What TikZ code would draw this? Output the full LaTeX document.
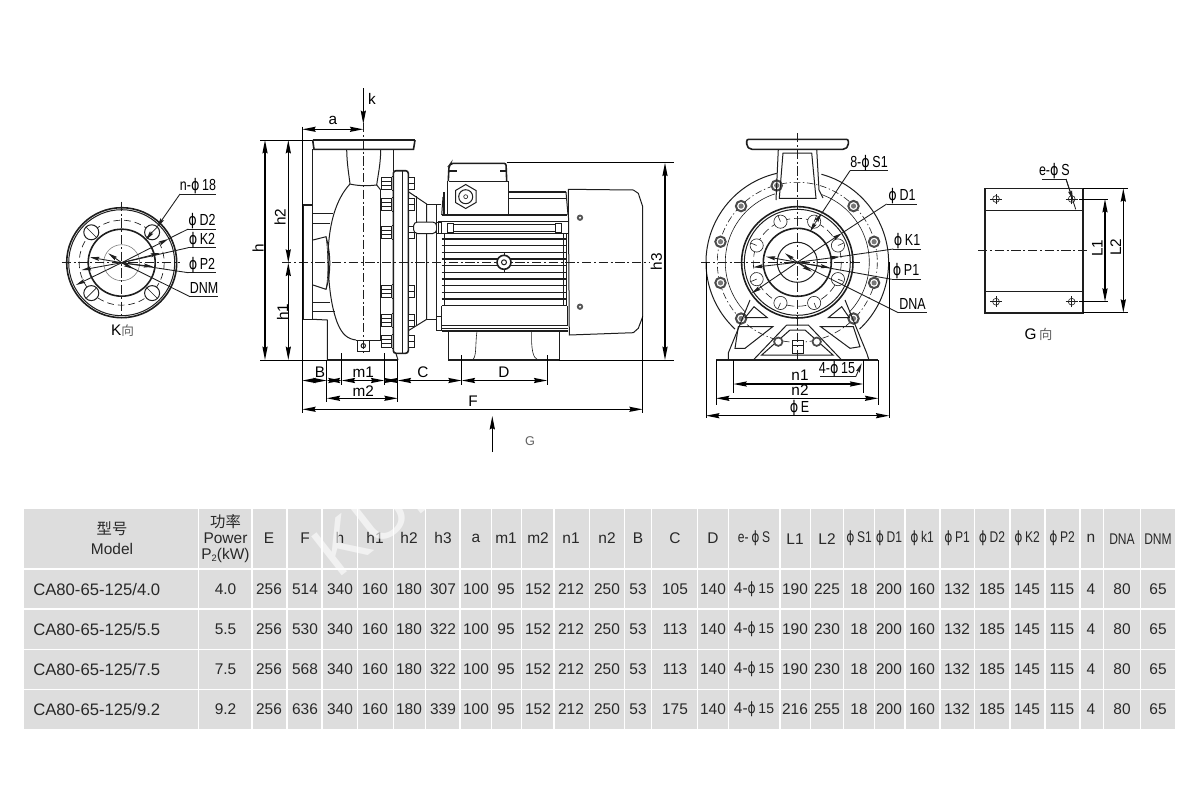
\documentclass[tikz,border=0pt]{standalone}
\usepackage{fontspec}
\setmainfont{Liberation Sans}
\newfontfamily\narrowf[FakeStretch=0.78]{Liberation Sans}
\newfontfamily\phif{DejaVu Sans}
\newfontfamily\cjk{Noto Sans CJK SC}
\usetikzlibrary{arrows.meta}
\newcommand{\phig}{{\phif\scalebox{0.8}[1]{ϕ}}}
\definecolor{tblgray}{RGB}{221,221,221}
\definecolor{ink}{RGB}{30,30,30}
\definecolor{tink}{RGB}{40,40,40}
\tikzset{
  tip/.tip={Stealth[length=10pt,width=3.8pt,inset=1pt]},
  stip/.tip={Stealth[length=7pt,width=3pt,inset=1pt]},
  thinl/.style={line width=0.45pt,draw=ink},
  med/.style={line width=0.75pt,draw=ink},
  thk/.style={line width=1.2pt,draw=ink},
  cen/.style={line width=0.5pt,draw=ink,dash pattern=on 7pt off 2pt on 1.5pt off 2pt},
  dashc/.style={line width=0.5pt,draw=ink,dash pattern=on 5pt off 3pt},
  dim/.style={line width=1.05pt,draw=black,tip-tip},
  ext/.style={line width=0.6pt,draw=black},
  lead/.style={line width=0.65pt,draw=ink},
  leadtip/.style={line width=0.65pt,draw=ink,-stip},
  fin/.style={line width=1.05pt,draw=ink},
  lab/.style={font=\fontsize{12}{12}\narrowf,text=black,inner sep=0pt},
  labw/.style={font=\fontsize{11.5}{12}\selectfont,text=black,inner sep=0pt},
  tt/.style={font=\fontsize{11.6}{12}\selectfont,text=tink,inner sep=0pt},
  ttn/.style={font=\fontsize{11.6}{12}\narrowf,text=tink,inner sep=0pt}
}
\newcommand{\boltL}[1]{\draw[med,fill=white] (381.7,#1-6) rectangle (391.7,#1+6); \draw[thinl] (381.7,#1-2) -- (391.7,#1-2); \draw[thinl] (381.7,#1+2) -- (391.7,#1+2); \draw[med] (391.7,#1-7) -- (393.3,#1-7) -- (393.3,#1+7) -- (391.7,#1+7);}
\newcommand{\boltR}[1]{\draw[med,fill=white] (408.3,#1-6) rectangle (414,#1+6); \draw[thinl] (408.3,#1) -- (414,#1);}
\newcommand{\cbolt}[1]{\draw[line width=1.5pt,draw=ink!80,fill=white] (#1:79.5) circle (5.2); \fill[ink!60] (#1:79.5) circle (2.6);}
\newcommand{\ghole}[1]{\draw[thinl] (#1) circle (3.4); \draw[thinl] ([xshift=-4.5pt]#1) -- ([xshift=4.5pt]#1); \draw[thinl] ([yshift=-4pt]#1) -- ([yshift=4pt]#1);}
\newcommand{\chole}[1]{\draw[thinl,fill=white] (#1:44) circle (6.6); \draw[thinl] (#1:44) -- (#1:50);}
\def\cxs{{269,305,340,375,409,443,476,506,538,571,607,638,675,713,754,795,827,859,889,922,957,992,1027,1062,1091,1122,1158}}
\newcommand{\eSv}{4-\raisebox{0pt}{\phig}\,{\fontsize{10.5}{12}\selectfont 15}}
\newcommand{\trow}[8]{%
  \node[tt,font=\fontsize{12.5}{13}\selectfont,anchor=west] (model#1) at (33,#1.5) {#2};
  \node[tt] (pow#1) at (225.5,#1.5) {#3};
  \foreach \v [count=\i from 0] in {256,#4,340,160,180,#5,100,95,152,212,250,53,#6,140,\eSv,#7,#8,18,200,160,132,185,145,115,4,80,65}{
    \pgfmathsetmacro\cx{\cxs[\i]}
    \node[tt] (cell#1-\i) at (\cx,#1.5) {\v};
  }
}
\begin{document}
\begin{tikzpicture}[x=0.75pt,y=-0.75pt]
\useasboundingbox (0,0) rectangle (1200,800);
\fill[white] (0,0) rectangle (1200,800);

%% ---------- K view
\begin{scope}[shift={(121.7,262.7)}]
  \draw[thk] (0,0) circle (55);
  \draw[med] (0,0) circle (53);
  \draw[dashc] (0,0) circle (42.5);
  \draw[thk] (0,0) circle (33.5);
  \draw[thinl,draw=gray] (0,0) circle (18);
  \foreach \a in {45,135,225,315}{
    \draw[med,fill=white] (\a:43) circle (7.5);
    \draw[thinl] (\a:36) -- (\a:50);
  }
\end{scope}
\draw[cen] (61.7,262.7) -- (180,262.7);
\draw[cen] (121.7,201.7) -- (121.7,316.7);
% leaders
\coordinate (kc) at (121.7,262.7);
\draw[lead] (180,194) -- (215.7,194);
\draw[leadtip] (180,194) -- (157,227);
\draw[leadtip] (152,232) -- (146,240);
\node[lab,anchor=base] (ln18) at (198,190.5) {n-\phig\,18};
\draw[lead] (188.3,229) -- (215.7,229);
\draw[leadtip] (kc) -- (76,285);
\draw[lead] (188.3,229) -- (168,239);
\draw[leadtip] (kc) -- (168.3,239);
\node[lab,anchor=base] (ld2) at (202,225.5) {\phig\,D2};
\draw[lead] (188.3,247.7) -- (215.7,247.7);
\draw[lead] (188.3,247.7) -- (kc);
\draw[leadtip] (kc) -- (160,253);
\draw[leadtip] (kc) -- (81.7,270);
\node[lab,anchor=base] (lk2) at (202,244) {\phig\,K2};
\draw[lead] (188.3,272.7) -- (215.7,272.7);
\draw[lead] (188.3,272.7) -- (kc);
\draw[leadtip] (kc) -- (153.3,266.7);
\draw[leadtip] (kc) -- (90,257.3);
\node[lab,anchor=base] (lp2) at (202,269) {\phig\,P2};
\draw[lead] (190,296.7) -- (218.3,296.7);
\draw[lead] (190,296.7) -- (kc);
\draw[leadtip] (kc) -- (133.3,268.8);
\draw[leadtip] (kc) -- (108.3,253.3);
\node[lab,anchor=base] (ldnm) at (204,293) {DNM};
\node[labw,anchor=center] (lkv) at (122.5,331) {K{\cjk\fontsize{9.5}{10}\selectfont\color{ink!70}向}};

%% ---------- side view: pump
\draw[thk] (312.7,140) -- (415,140);
\draw[thk] (312.7,140) -- (314,149.3) -- (413.5,149.3) -- (415,140);
\draw[thk] (302.3,205) -- (312.7,205);
\draw[med] (312.7,149.3) -- (312.7,205);
\draw[thk] (302.7,205) -- (302.7,319.3) -- (312.7,319.3);
\draw[med] (312.7,205) -- (312.7,319.3);
\draw[med] (312.7,319.3) -- (327.3,320) -- (327.3,360);
\draw[thk] (327.3,360) -- (398,360);
\draw[med] (393.3,149.3) -- (393.3,171);
\draw[med] (393.3,345) -- (398,360);
% back plate
\draw[thk,fill=white,rounded corners=2pt] (393.3,170.7) rectangle (408.3,353.3);
\draw[thinl] (402.7,171) -- (402.7,353);
% neck and volute
\draw[med] (346.7,150) .. controls (347,165) and (349,175) .. (350,184);
\draw[med] (380.7,150) .. controls (380.5,165) and (378,175) .. (376.7,185);
\draw[med] (350,184) .. controls (335,200) and (330,225) .. (328.5,245)
      .. controls (327.5,270) and (329,300) .. (337,322)
      .. controls (342,335) and (348,339) .. (356,340);
\draw[med] (350,184) .. controls (358,186) and (368,186) .. (376.7,185) -- (380.7,190);
\draw[med] (356,340) -- (380.7,340);
\draw[med] (380.7,190) -- (380.7,340);
% inlet
\draw[med] (313,240) -- (326,236.7) .. controls (330,250) and (332,270) .. (326,289.3) -- (313,285);
\draw[thinl] (326,236.7) .. controls (328,250) and (329,275) .. (326,289.3);
\draw[thinl] (313,213.3) -- (333,213.3);
\draw[thinl] (313,223.3) -- (330,223.3);
\draw[thinl] (313,302.7) -- (330,302.7);
\draw[thinl] (313,311) -- (335,311);
% foot bolt
\draw[med,fill=white] (357.3,340) rectangle (369.3,351.5);
\draw[med] (363.3,345.7) circle (2.2);
% flange bolts
\foreach \y in {183.3,204,232.7,291.7,320,341.7}{\boltL{\y}\boltR{\y}}
% bearing bracket
\draw[med] (408.3,191.7) -- (426.7,204) -- (426.7,319.3) -- (408.3,330.7);
\draw[thinl] (416,196) -- (416,326);
\draw[med] (426.7,204) -- (441,204);
\draw[med] (426.7,319.3) -- (441,319.3);
\draw[med] (436.7,204) -- (436.7,319.3);
\draw[med,fill=white,rounded corners=3pt] (413.5,222) rectangle (436.7,233.5);
\draw[med,fill=white] (436.7,222) rectangle (441,233.5);
\draw[med,fill=white] (436.7,316) rectangle (441,330);

%% ---------- motor
\draw[thk,rounded corners=1.5pt] (448.3,181) -- (449,166) -- (451,163.3) -- (506,163.3) -- (506.7,181);
\draw[med] (449,170) -- (456,170) -- (456,171.5) -- (449,171.5);
\draw[med] (500,170) -- (506,170) -- (506,171.5) -- (500,171.5);
\draw[med] (449,181) -- (508,181);
\draw[med] (447.5,181) -- (447.5,214);
\draw[med] (508,181) -- (508,214);
\draw[thk] (444,192) -- (444,215);
\draw[thk] (508,191.7) -- (566,191.7);
\draw[med] (508,198.3) -- (566,198.3);
\draw[thk] (441.7,215) -- (567,215);
\draw[med] (566,192) -- (568,215);
\draw[med] (441.7,215) -- (443,197);
\draw[med] (465.7,184.5) -- (476,190.5) -- (476,202.5) -- (465.7,208.5) -- (455.5,202.5) -- (455.5,190.5) -- cycle;
\draw[med] (465.7,196.7) circle (7);
\draw[thinl] (465.7,196.7) circle (2);
% lifting bar
\draw[med] (438,221.7) -- (568,221.7);
\draw[med] (438,233.3) -- (568,233.3);
\draw[med] (438,221.7) -- (438,233.3);
\draw[med,fill=white] (447,223) rectangle (453,232);
\draw[med,fill=white] (555,223) rectangle (561,232);
\draw[med] (453,224) -- (555,224);
\draw[thinl] (453,231) -- (555,231);
% fins
\foreach \y in {239,245.7,252.3,259,265.7,272.3,279,285.7,292.3,299,305.7}{\draw[fin] (441.7,\y) -- (566.7,\y);}
\draw[med] (444.5,233) -- (444.5,306);
\draw[med] (563.5,233) -- (563.5,306);
\draw[thinl] (566,233) -- (566,306);
% lower frame
\draw[med] (441.7,306) -- (441.7,325);
\draw[med] (567,306) -- (567,325);
\draw[med] (441.7,325) -- (568,325);
\draw[med] (441.7,328.3) -- (568,328.3);
\draw[thk] (441.7,331) -- (568,331);
% feet
\draw[med] (448.3,331) -- (448.3,360) -- (559.3,360) -- (559.3,331);
\draw[thk] (448.3,360) -- (559.3,360);
\draw[thinl] (477,331) .. controls (475,345) and (477,358) .. (472,360);
\draw[thinl] (531.7,331) .. controls (531,350) and (533,358) .. (538,360);
% fan cover
\draw[med] (568.3,189.3) -- (633.3,190) -- (638.3,193.3) -- (642.7,206.7) -- (642.7,316.7) -- (638.3,328.3) -- (633.3,332.7) -- (569.3,335) -- cycle;
\fill[ink!75] (580,217.7) circle (3.2);
\fill[white] (580,217.7) circle (1.2);
\fill[ink!75] (580,306.7) circle (3.2);
\fill[white] (580,306.7) circle (1.2);
% center bolt
\draw[cen] (282,262.7) -- (650,262.7);
\draw[cen] (363.3,123) -- (363.3,353);
\draw[thk,fill=white] (504,262.3) circle (7);
\draw[med] (504,262.3) circle (2.5);
\draw[thinl] (504,252) -- (504,256); \draw[thinl] (504,269) -- (504,272);

%% ---------- side view dimensions
\draw[ext] (302.3,126.7) -- (302.3,413);
\draw[ext] (260,140) -- (312,140);
\draw[ext] (260,360) -- (327.3,360);
\draw[ext] (506.7,162.7) -- (674,162.7);
\draw[ext] (559.3,360) -- (674,360);
\draw[ext] (642.7,316) -- (642.7,413);
\draw[ext] (326.7,360) -- (326.7,402);
\draw[ext] (341.7,353) -- (341.7,385);
\draw[ext] (384.3,353) -- (384.3,385);
\draw[ext] (397.7,360) -- (397.7,402);
\draw[ext] (461.7,355) -- (461.7,385);
\draw[ext] (547.3,355) -- (547.3,385);
\coordinate (kt) at (363.3,88);
\coordinate (kb) at (363.3,124);
\draw[line width=1.05pt,-tip] (kt) -- (kb);
\node[labw] (kl) at (372,99) {k};
\draw[dim] (302.3,129.3) -- (363.3,129.3);
\node[labw] (al) at (333,120) {a};
\draw[dim] (265,140) -- (265,360);
\node[labw,rotate=90] (hl) at (258,248) {h};
\draw[dim] (288.3,140) -- (288.3,262.7);
\draw[dim] (288.3,262.7) -- (288.3,360);
\node[labw,rotate=90] (h2l) at (280,217) {h2};
\node[labw,rotate=90] (h1l) at (282.5,312) {h1};
\draw[dim] (665,162.7) -- (665,360);
\node[labw,rotate=90] (h3l) at (656.5,261.7) {h3};
\draw[dim] (302.3,380.5) -- (326.7,380.5);
\draw[dim] (326.7,380.5) -- (341.7,380.5);
\draw[dim] (341.7,380.5) -- (384.3,380.5);
\draw[dim] (384.3,380.5) -- (397.7,380.5);
\draw[dim] (397.7,380.5) -- (461.7,380.5);
\draw[dim] (461.7,380.5) -- (547.3,380.5);
\draw[dim] (326.7,398.3) -- (397.7,398.3);
\draw[dim] (302.3,409.3) -- (642.7,409.3);
\node[labw] (bl) at (320,372) {B};
\node[labw] (m1l) at (363.3,372.5) {m1};
\node[labw] (m2l) at (363.3,391.5) {m2};
\node[labw] (cl) at (423,372.5) {C};
\node[labw] (dl) at (504,372) {D};
\node[labw] (fl) at (473,401.5) {F};
\coordinate (gb) at (492.3,452);
\coordinate (gt) at (492.3,416);
\draw[line width=1.2pt,-tip] (gb) -- (gt);
\node[font=\fontsize{9.5}{10}\selectfont,text=ink!70,inner sep=0pt] (gl) at (530,441) {G};

%% ---------- front view
\begin{scope}[shift={(797.3,262.3)}]
  \draw[med] (257:91.3) arc (257:133:91.3);
  \draw[med] (-74.7:91.3) arc (-74.7:47:91.3);
  \draw[thinl] (252:72) arc (252:136:72);
  \draw[thinl] (-70:72) arc (-70:44:72);
  \draw[thinl,dash pattern=on 5pt off 2pt on 1pt off 2pt] (0,0) circle (80);
  \foreach \a in {255,225,195,165,135,-45,-15,15,45}{\cbolt{\a}}
\end{scope}
% neck
\draw[med] (778.3,149.3) -- (776,200);
\draw[med] (816.7,149.3) -- (819,190) -- (823,198);
\draw[med] (783,153) -- (779.3,198.3) -- (816,198.3) -- (811.7,153) -- cycle;
\draw[thk,fill=white,rounded corners=1.5pt] (746.7,139.3) -- (848.3,139.3) -- (848.3,146) -- (845,149.3) -- (750,149.3) -- (746.7,146) -- cycle;
% ribs and base
\draw[med] (750,300) -- (728.3,353) -- (728.3,360);
\draw[med] (845,300) -- (866.7,353) -- (869,360);
\draw[med] (745,317.7) -- (754,306.7) -- (767.3,317.7) -- cycle;
\draw[med] (828.3,317.7) -- (841.7,306.7) -- (849.3,317.7) -- cycle;
\draw[med] (738.3,326.7) -- (772.7,326.7) -- (745,348.3) -- (735,348.3) -- cycle;
\draw[med] (820.7,326.7) -- (853.3,326.7) -- (860,346.7) -- (850,348.3) -- cycle;
\draw[med] (786.7,325) -- (808.3,325) -- (841.7,360);
\draw[med] (786.7,325) -- (753.3,360);
\draw[med] (790,330) -- (805,330) -- (833,355) -- (761.7,355) -- cycle;
\draw[thk] (716,360) -- (878.3,360);
\draw[line width=1.3pt,draw=ink!80,fill=white] (778.3,341.7) circle (4.2);
\draw[line width=1.3pt,draw=ink!80,fill=white] (816.7,341.7) circle (4.2);
\draw[med,fill=white] (792,340) rectangle (803,353);
\draw[med] (792,345) -- (803,345);
% plate
\draw[thk,fill=white] (797.3,262.3) circle (55.7);
\draw[med] (797.3,262.3) circle (53);
\draw[thinl,dash pattern=on 6pt off 3pt] (797.3,262.3) circle (44);
\begin{scope}[shift={(797.3,262.3)}]
  \foreach \a in {22.5,67.5,112.5,157.5,202.5,247.5,292.5,337.5}{\chole{\a}}
\end{scope}
\draw[thk] (797.3,262.3) circle (34);
\draw[med] (797.3,262.3) circle (20);
\draw[cen] (701,262.3) -- (860,262.3);
\draw[cen] (797.3,133) -- (797.3,360);
% leaders
\coordinate (fc) at (797.3,262.3);
\draw[lead] (850,170.7) -- (888.3,170.7);
\draw[lead] (850,170.7) -- (821.7,213.3);
\draw[leadtip] (815.5,222.5) -- (821.7,213.3);
\draw[leadtip] (815.5,222.5) -- (810,231.7);
\node[lab,anchor=base] (ls1) at (869,167) {8-\phig\,S1};
\draw[lead] (886.7,204) -- (916.7,204);
\draw[lead] (886.7,204) -- (841.7,233.3);
\draw[leadtip] (fc) -- (841.7,233.3);
\draw[leadtip] (fc) -- (751.7,293.3);
\node[lab,anchor=base] (ld1) at (902,200) {\phig\,D1};
\draw[lead] (893.3,249) -- (920.7,249);
\draw[lead] (893.3,249) -- (840,256.7);
\draw[leadtip] (fc) -- (840,256.7);
\draw[leadtip] (fc) -- (753.3,267.3);
\node[lab,anchor=base] (lk1) at (907,245.5) {\phig\,K1};
\draw[lead] (891.7,279.3) -- (920.7,279.3);
\draw[lead] (891.7,279.3) -- (fc);
\draw[leadtip] (fc) -- (830,267.7);
\draw[leadtip] (fc) -- (766,256.7);
\node[lab,anchor=base] (lp1) at (906,275.5) {\phig\,P1};
\draw[lead] (898.3,312.7) -- (926.7,312.7);
\draw[lead] (898.3,312.7) -- (fc);
\draw[leadtip] (fc) -- (811.7,271.7);
\draw[leadtip] (fc) -- (785,253.3);
\node[lab,anchor=base] (ldna) at (912.5,309) {DNA};
% dims
\draw[ext] (733.3,360) -- (733.3,393.3);
\draw[ext] (863.3,360) -- (863.3,393.3);
\draw[ext] (716,360) -- (716,405);
\draw[ext] (878.3,360) -- (878.3,405);
\draw[ext] (706,262.3) -- (706,418);
\draw[ext] (889.3,262.3) -- (889.3,418);
\draw[dim] (733.3,384) -- (863.3,384);
\draw[dim] (716,398.3) -- (878.3,398.3);
\draw[dim] (706,415.7) -- (889.3,415.7);
\node[labw] (n1l) at (800,375.5) {n1};
\node[labw] (n2l) at (800,390.5) {n2};
\node[lab] (el) at (799.5,408) {\phig\,E};
\draw[lead] (820,376.7) -- (855.7,376.7);
\draw[leadtip] (855.7,376.7) -- (861.7,363.3);
\node[lab,anchor=base] (l415) at (837,373) {4-\phig\,15};

%% ---------- G view
\draw[thk] (985,188.3) rectangle (1082.7,312.7);
\draw[med] (985,210) -- (1082.7,210);
\draw[med] (985,291) -- (1082.7,291);
\coordinate (ga) at (996,199);
\coordinate (gc) at (1071.7,199);
\coordinate (gd) at (996,301.7);
\coordinate (ge) at (1071.7,301.7);
\ghole{ga}\ghole{gc}\ghole{gd}\ghole{ge}
\draw[cen] (978,250.7) -- (1089,250.7);
\draw[ext] (1082.7,188.3) -- (1128,188.3);
\draw[ext] (1082.7,312.7) -- (1128,312.7);
\draw[ext] (1079.3,199) -- (1108,199);
\draw[ext] (1079.3,301.7) -- (1108,301.7);
\draw[dim] (1105,199) -- (1105,301.7);
\draw[dim] (1123.3,188.3) -- (1123.3,312.7);
\node[labw,rotate=90] (l1l) at (1097.3,248.3) {L1};
\node[labw,rotate=90] (l2l) at (1115.7,247) {L2};
\draw[lead] (1042.3,179) -- (1066,179);
\draw[lead] (1066,179) -- (1075.7,209.3);
\draw[leadtip] (1066,179) -- (1073,200);
\node[lab,anchor=base] (les) at (1054.3,175) {e-\phig\,S};
\node[labw] (lgv) at (1038.5,334) {G\,{\cjk\fontsize{10}{10}\selectfont\color{ink!70}向}};

%% ---------- table
\fill[tblgray] (24,509) rectangle (1175,729);
\foreach \x in {198.3,252,287,322,357.5,393.5,425.7,460,491.5,521.4,554,589.5,624.5,651.6,697.5,728.3,780,810.8,843.5,874.4,904.9,939.9,974.5,1009.9,1044.9,1079.9,1103.6,1140.8}{
  \draw[white,line width=1pt] (\x,509) -- (\x,729);
}
\foreach \y in {569,609,649.5,689.5}{
  \draw[white,line width=1.1pt] (24,\y) -- (1175,\y);
}
\node[tt,font=\cjk\fontsize{11.5}{12}\selectfont] (hcn) at (112,529) {型号};
\node[tt] (hmod) at (112,549) {Model};
\node[tt,font=\cjk\fontsize{11.5}{12}\selectfont] (hpcn) at (225.5,522) {功率};
\node[tt] (hpow) at (225.5,538.5) {Power};
\node[tt] (hp2) at (225.5,555) {P{\fontsize{7}{8}\selectfont\raisebox{-2pt}{2}}(kW)};
\foreach \v [count=\i from 0] in {E,F,h,h1,h2,h3,a,m1,m2,n1,n2,B,C,D}{
  \pgfmathsetmacro\cx{\cxs[\i]}
  \node[tt] (hd\i) at (\cx,538) {\v};
}
\node[ttn] (he) at (754,538) {e-\,\phig\,S};
\node[tt] (hl1) at (795,539) {L1};
\node[tt] (hl2) at (827,539) {L2};
\node[ttn] (hs1) at (859,538) {\phig\,S1};
\node[ttn] (hd1) at (889,538) {\phig\,D1};
\node[ttn] (hk1) at (922,538) {\phig\,k1};
\node[ttn] (hp1) at (957,538) {\phig\,P1};
\node[ttn] (hd2) at (992,538) {\phig\,D2};
\node[ttn] (hk2) at (1027,538) {\phig\,K2};
\node[ttn] (hp2b) at (1062,538) {\phig\,P2};
\node[tt] (hn) at (1091,538) {n};
\node[ttn] (hdna) at (1122,539) {DNA};
\node[ttn] (hdnm) at (1158,539) {DNM};

%% ---------- watermark (behind the rows' figures)
\node[rotate=38,text=white,opacity=0.6,inner sep=0pt,font=\fontsize{54}{54}\selectfont,anchor=west] (wm) at (322,560) {KUP};

\trow{589}{CA80-65-125/4.0}{4.0}{514}{307}{105}{190}{225}
\trow{629}{CA80-65-125/5.5}{5.5}{530}{322}{113}{190}{230}
\trow{669}{CA80-65-125/7.5}{7.5}{568}{322}{113}{190}{230}
\trow{709}{CA80-65-125/9.2}{9.2}{636}{339}{175}{216}{255}
\end{tikzpicture}
\end{document}
